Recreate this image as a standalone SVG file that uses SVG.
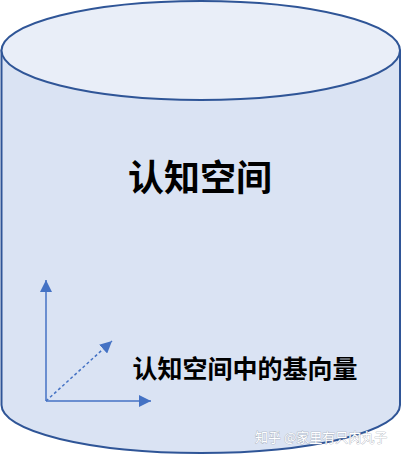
<svg xmlns="http://www.w3.org/2000/svg" width="401" height="456" viewBox="0 0 401 456">
<defs>
<style>
.cyl{fill:#dae3f3;stroke:#2f5597;stroke-width:2}
.top{fill:#e9eef8;stroke:#2f5597;stroke-width:2}
.ax{stroke:#4472c4;stroke-width:1.5;fill:none}
.t{font-family:"Noto Sans CJK SC","Noto Sans",sans-serif;font-weight:bold;fill:#000;text-anchor:middle}
.wm{font-family:"Noto Sans CJK SC","Noto Sans",sans-serif;font-size:13px;fill:#ffffff;stroke:#9aa3b0;stroke-width:0.6;paint-order:stroke}
</style>
<marker id="ah" viewBox="0 0 12 12" refX="12" refY="6" markerWidth="12" markerHeight="12" markerUnits="userSpaceOnUse" orient="auto">
<path d="M0,0 L12,6 L0,12 Z" fill="#4472c4"/>
</marker>
</defs>
<g id="cylinder">
<path class="cyl" d="M1.5,50.5 L1.5,405 A199.25,48 0 0 0 400,405 L400,50.5 Z"/>
<ellipse class="top" cx="200.75" cy="50.5" rx="199.25" ry="49.5"/>
<text class="t" x="200" y="191" font-size="36">认知空间</text>
</g>
<g id="connectors">
<line class="ax" x1="46" y1="401" x2="46" y2="280" marker-end="url(#ah)"/>
<line class="ax" x1="46" y1="401" x2="151" y2="401" marker-end="url(#ah)"/>
<line class="ax" x1="46" y1="401" x2="112" y2="341" stroke-dasharray="3,2.5" marker-end="url(#ah)"/>
</g>
<g id="label">
<text class="t" x="245" y="378" font-size="25">认知空间中的基向量</text>
</g>
<text class="wm" x="255" y="442">知乎 @家里有只肉丸子</text>
</svg>
